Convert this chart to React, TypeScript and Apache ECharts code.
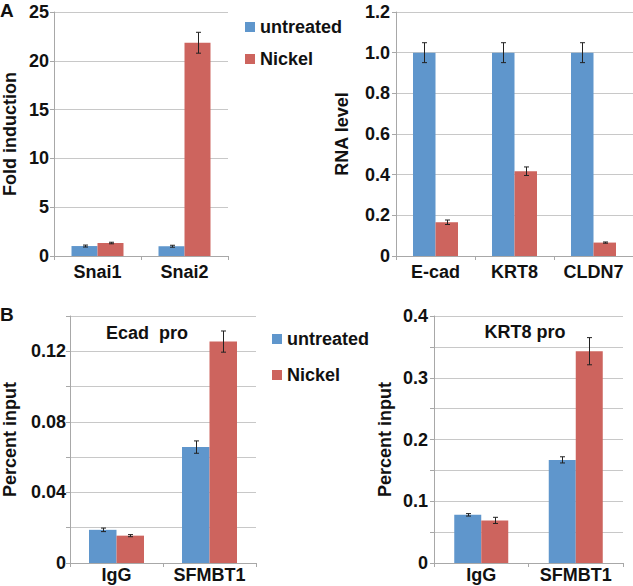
import React, { useEffect, useRef } from 'react';
import * as echarts from 'echarts';

// Panel A (left): fold induction
const catsA1 = ['Snai1', 'Snai2'];
const untreatedA1 = [1.02, 1.0];
const nickelA1 = [1.33, 21.85];
const errUntreatedA1 = [0.1, 0.1];
const errNickelA1 = [0.08, 1.07];

// Panel A (right): RNA level
const catsA2 = ['E-cad', 'KRT8', 'CLDN7'];
const untreatedA2 = [1.0, 1.0, 1.0];
const nickelA2 = [0.166, 0.417, 0.066];
const errUntreatedA2 = [0.049, 0.049, 0.049];
const errNickelA2 = [0.011, 0.021, 0.003];

// Panel B (left): Ecad pro
const catsB1 = ['IgG', 'SFMBT1'];
const untreatedB1 = [0.0188, 0.0657];
const nickelB1 = [0.0155, 0.1255];
const errUntreatedB1 = [0.001, 0.0035];
const errNickelB1 = [0.0006, 0.006];

// Panel B (right): KRT8 pro
const catsB2 = ['IgG', 'SFMBT1'];
const untreatedB2 = [0.078, 0.167];
const nickelB2 = [0.069, 0.343];
const errUntreatedB2 = [0.002, 0.005];
const errNickelB2 = [0.005, 0.022];

const seriesNames = ['untreated', 'Nickel'];

const FONT = '"Liberation Sans", Arial, Helvetica, sans-serif';
const BLUE = '#5f96cc';
const RED = '#cd645e';
const AXIS = '#a8a8a8';
const GRID = '#c8c8c8';
const TXT = '#111';
const FS = 18;

function errSeries(idx: number, u: number[], n: number[], eu: number[], en: number[], bw: number) {
  const data: number[][] = [];
  u.forEach((v, i) => data.push([i, v - eu[i], v + eu[i], -1]));
  n.forEach((v, i) => data.push([i, v - en[i], v + en[i], 1]));
  return {
    type: 'custom',
    xAxisIndex: idx,
    yAxisIndex: idx,
    data,
    encode: { x: 0, y: [1, 2] },
    silent: true,
    z: 10,
    renderItem: (_p: any, api: any) => {
      const lo = api.coord([api.value(0), api.value(1)]);
      const hi = api.coord([api.value(0), api.value(2)]);
      const x = Math.round(lo[0] + (api.value(3) * bw) / 2) + 0.5;
      const cap = 2.5;
      const style = { stroke: '#222', lineWidth: 1 };
      return {
        type: 'group',
        children: [
          { type: 'line', shape: { x1: x, y1: lo[1], x2: x, y2: hi[1] }, style },
          { type: 'line', shape: { x1: x - cap, y1: lo[1], x2: x + cap, y2: lo[1] }, style },
          { type: 'line', shape: { x1: x - cap, y1: hi[1], x2: x + cap, y2: hi[1] }, style },
        ],
      };
    },
  };
}

function barSeries(idx: number, u: number[], n: number[], bw: number) {
  return [
    { name: seriesNames[0], type: 'bar', xAxisIndex: idx, yAxisIndex: idx, data: u, barWidth: bw, barGap: '0%', itemStyle: { color: BLUE } },
    { name: seriesNames[1], type: 'bar', xAxisIndex: idx, yAxisIndex: idx, data: n, barWidth: bw, barGap: '0%', itemStyle: { color: RED } },
  ];
}

function xAxisDef(idx: number, data: string[], margin: number) {
  return {
    type: 'category',
    gridIndex: idx,
    data,
    axisLine: { lineStyle: { color: AXIS } },
    axisTick: { show: true, length: 4, lineStyle: { color: AXIS } },
    axisLabel: { interval: 0, hideOverlap: false, color: TXT, fontSize: FS, fontWeight: 'bold', fontFamily: FONT, margin },
  };
}

function yAxisDef(idx: number, max: number, interval: number, name: string, nameGap: number, margin: number, fmt: (v: number) => string) {
  return {
    type: 'value',
    gridIndex: idx,
    min: 0,
    max,
    interval,
    name,
    nameLocation: 'middle',
    nameGap,
    nameTextStyle: { color: TXT, fontSize: FS, fontWeight: 'bold', fontFamily: FONT },
    axisLine: { show: true, lineStyle: { color: AXIS } },
    axisTick: { show: true, length: 4, lineStyle: { color: AXIS } },
    splitLine: { show: true, lineStyle: { color: GRID, width: 1 } },
    axisLabel: { color: TXT, fontSize: FS, fontWeight: 'bold', fontFamily: FONT, margin, formatter: fmt },
  };
}

export default function App() {
  const ref = useRef<HTMLDivElement>(null);
  useEffect(() => {
    document.body.style.margin = '0';
    const chart = echarts.init(ref.current!, null, { renderer: 'svg' });
    const legendCommon = {
      data: seriesNames,
      orient: 'vertical',
      itemWidth: 10,
      itemHeight: 10,
      selectedMode: false,
      icon: 'rect',
      textStyle: { color: TXT, fontSize: FS, fontWeight: 'bold', fontFamily: FONT, lineHeight: 18 },
    };
    chart.setOption({
      animation: false,
      backgroundColor: '#ffffff',
      grid: [
        { left: 48, top: 12, width: 180, height: 244 },
        { left: 396, top: 12, width: 237, height: 244 },
        { left: 64, top: 316, width: 192, height: 247 },
        { left: 434, top: 316, width: 189, height: 247 },
      ],
      legend: [
        { ...legendCommon, left: 240, top: 13, itemGap: 14 },
        { ...legendCommon, left: 267, top: 325, itemGap: 18 },
      ],
      xAxis: [
        xAxisDef(0, catsA1, 7),
        xAxisDef(1, catsA2, 7),
        xAxisDef(2, catsB1, 3),
        xAxisDef(3, catsB2, 3),
      ],
      yAxis: [
        yAxisDef(0, 25, 5, 'Fold induction', 35, 5, (v) => String(v)),
        yAxisDef(1, 1.2, 0.2, 'RNA level', 45, 6, (v) => (v === 0 ? '0' : v.toFixed(1))),
        yAxisDef(2, 0.14, 0.02, 'Percent input', 51, 4, (v) =>
          v === 0 ? '0' : Math.round(v * 100) % 4 === 0 ? v.toFixed(2) : ''),
        yAxisDef(3, 0.4, 0.05, 'Percent input', 40, 6, (v) =>
          v === 0 ? '0' : Math.round(v * 100) % 10 === 0 ? v.toFixed(1) : ''),
      ],
      graphic: [
        { type: 'text', left: 0, top: 1, style: { text: 'A', fontSize: 19, fontWeight: 'bold', fontFamily: FONT, fill: TXT } },
        { type: 'text', left: 0, top: 305, style: { text: 'B', fontSize: 19, fontWeight: 'bold', fontFamily: FONT, fill: TXT } },
        { type: 'text', x: 147, y: 333, style: { text: 'Ecad  pro', fontSize: FS, fontWeight: 'bold', fontFamily: FONT, fill: TXT, align: 'center', verticalAlign: 'middle' } },
        { type: 'text', x: 525, y: 332, style: { text: 'KRT8 pro', fontSize: FS, fontWeight: 'bold', fontFamily: FONT, fill: TXT, align: 'center', verticalAlign: 'middle' } },
      ],
      series: [
        ...barSeries(0, untreatedA1, nickelA1, 26),
        errSeries(0, untreatedA1, nickelA1, errUntreatedA1, errNickelA1, 26),
        ...barSeries(1, untreatedA2, nickelA2, 22.5),
        errSeries(1, untreatedA2, nickelA2, errUntreatedA2, errNickelA2, 22.5),
        ...barSeries(2, untreatedB1, nickelB1, 27.5),
        errSeries(2, untreatedB1, nickelB1, errUntreatedB1, errNickelB1, 27.5),
        ...barSeries(3, untreatedB2, nickelB2, 27),
        errSeries(3, untreatedB2, nickelB2, errUntreatedB2, errNickelB2, 27),
      ],
    });
    return () => chart.dispose();
  }, []);
  return <div ref={ref} style={{ width: 633, height: 586 }} />;
}
